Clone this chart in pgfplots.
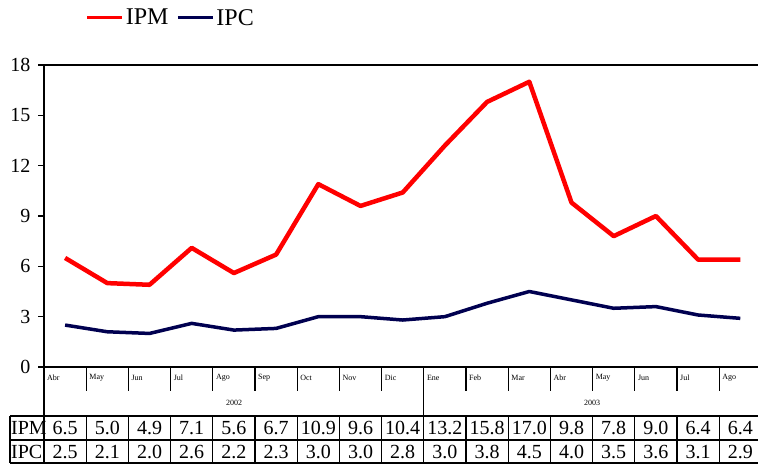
\documentclass[border=0pt]{standalone}
\usepackage{pgfplots}
\usepackage{pgfplotstable}
\pgfplotsset{compat=1.18}
\usepackage{fontspec}
\setmainfont{Liberation Serif}
\definecolor{ipmred}{RGB}{255,0,0}
\definecolor{ipcnavy}{RGB}{0,0,80}

\pgfplotstableread{
x  IPM  IPC
0  6.5  2.5
1  5.0  2.1
2  4.9  2.0
3  7.1  2.6
4  5.6  2.2
5  6.7  2.3
6  10.9 3.0
7  9.6  3.0
8  10.4 2.8
9  13.2 3.0
10 15.8 3.8
11 17.0 4.5
12 9.8  4.0
13 7.8  3.5
14 9.0  3.6
15 6.4  3.1
16 6.4  2.9
}\datatable

\begin{document}
\begin{tikzpicture}[x=1pt,y=1pt]
\useasboundingbox (0,0) rectangle (758,464);
\begin{axis}[
  at={(44pt,97pt)}, anchor=south west,
  scale only axis, width=717.4pt, height=302pt,
  xmin=-0.5, xmax=16.5, ymin=0, ymax=18,
  xtick=\empty,
  ytick={0,3,6,9,12,15,18},
  tick align=outside,
  major tick length=6pt,
  ytick style={line width=1.5pt, black},
  yticklabel style={font=\fontsize{20}{24}\selectfont, xshift=-4pt},
  /pgf/number format/assume math mode=true,
  axis line style={line width=2.5pt, black},
  clip=false,
  legend style={at={(axis description cs:0.058,1.156)}, anchor=west,
    draw=none, fill=none, legend columns=-1,
    font=\fontsize{24}{28}\selectfont,
    /tikz/every even column/.append style={column sep=6pt},
    inner sep=0pt},
  legend image code/.code={\draw[#1, line width=3pt] (0pt,0pt) -- (35pt,0pt);},
]
\addplot[ipmred, line width=4.5pt, line join=round] table[x=x, y=IPM] {\datatable};
\addlegendentry{IPM}
\addplot[ipcnavy, line width=3.5pt, line join=round] table[x=x, y=IPC] {\datatable};
\addlegendentry{IPC}
\end{axis}

% category separators below axis
\foreach \k in {1,...,16} \draw[line width=1.2pt] ({44+42.2*\k},97) -- ({44+42.2*\k},73);
\draw[line width=1.2pt] ({44+42.2*9},97) -- ({44+42.2*9},48);
\draw[line width=2.5pt] (44,97) -- (44,1);

% month labels
\foreach \m [count=\i from 0] in {Abr,May,Jun,Jul,Ago,Sep,Oct,Nov,Dic,Ene,Feb,Mar,Abr,May,Jun,Jul,Ago}
  \node[anchor=west, inner sep=0pt, font=\fontsize{8}{9}\selectfont] at ({44+42.2*\i+3},86) {\m};
\node[font=\fontsize{8}{9}\selectfont] at (234,61) {2002};
\node[font=\fontsize{8}{9}\selectfont] at (592,61) {2003};

% data table
\draw[line width=1.2pt] (10,48) -- (765,48);
\draw[line width=1.2pt] (10,24) -- (765,24);
\draw[line width=1.2pt] (10,1) -- (765,1);
\draw[line width=1.2pt] (10,48) -- (10,1);
\foreach \k in {1,...,17} \draw[line width=1.2pt] ({44+42.2*\k},48) -- ({44+42.2*\k},1);
\node[anchor=west, inner sep=0pt, font=\fontsize{20}{24}\selectfont] at (11,36) {IPM};
\node[anchor=west, inner sep=0pt, font=\fontsize{20}{24}\selectfont] at (11,12) {IPC};
\foreach \v [count=\i from 0] in {6.5,5.0,4.9,7.1,5.6,6.7,10.9,9.6,10.4,13.2,15.8,17.0,9.8,7.8,9.0,6.4,6.4}
  \node[font=\fontsize{20}{24}\selectfont] at ({44+42.2*(\i+0.5)},36) {\v};
\foreach \v [count=\i from 0] in {2.5,2.1,2.0,2.6,2.2,2.3,3.0,3.0,2.8,3.0,3.8,4.5,4.0,3.5,3.6,3.1,2.9}
  \node[font=\fontsize{20}{24}\selectfont] at ({44+42.2*(\i+0.5)},12) {\v};
\end{tikzpicture}
\end{document}
